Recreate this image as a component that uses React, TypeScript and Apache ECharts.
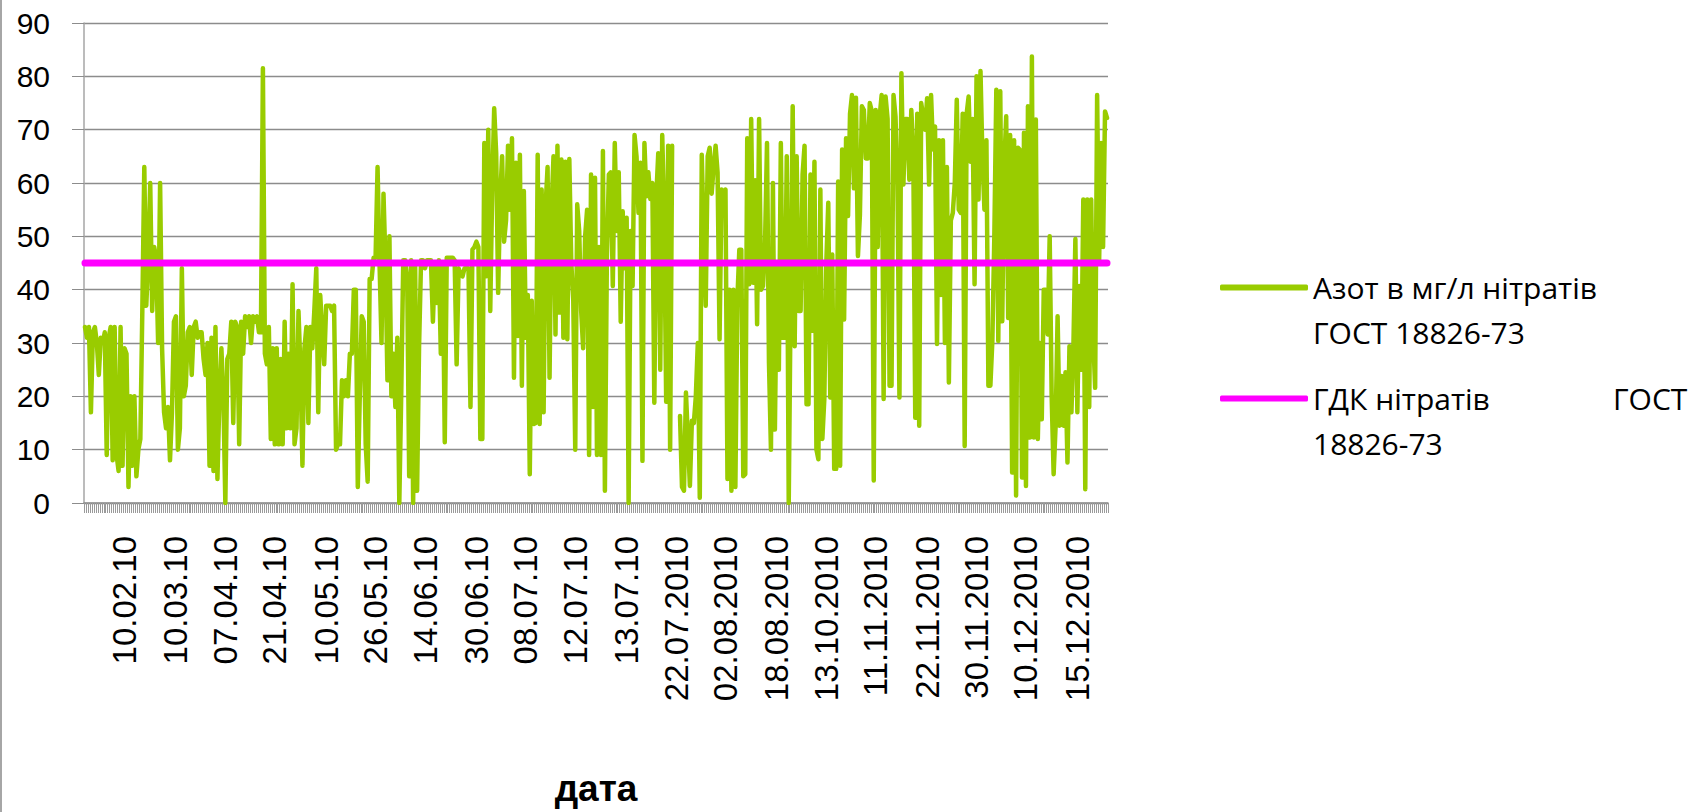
import React, { useEffect, useRef } from "react";
import * as echarts from "echarts";

// Nitrate nitrogen, mg/l (one value per measurement, in order)
const nitrateValues: (number | null)[] = [
  // segment 1
  33, 31, 33, 17, 32, 33, 30, 24, 31, 30, 32, 9, 31, 33, 8, 33, 9, 6, 33, 7,
  29, 28, 3, 20, 7, 20, 5, 10, 12, 36, 63, 37, 46, 60, 36, 48, 46, 30, 60, 29,
  17, 14, 18, 8, 17, 34, 35, 10, 14, 44, 20, 22, 32, 33, 24, 33, 34, 31, 32, 32,
  27, 24, 30, 7,
  // segment 2
  31, 6, 33, 4.5, 20, 29, 20, 0, 27, 28, 34, 15, 34, 33, 11, 34, 28, 35, 33, 35,
  30, 35, 34, 35, 32, 32, 81.5, 28, 26, 33, 12, 29, 11, 29, 11, 27, 11, 34, 14, 28,
  14, 41, 11, 14, 36, 25, 7, 29, 33, 15, 33, 29, 36, 44, 17, 39, 32, 26, 37, 37,
  37, 36, 37, 10, 11, 11, 23, 20, 23, 20, 28,
  // segment 3
  28, 40, 40, 3, 20, 35, 34, 11, 4, 42, 42, 46, 46, 63, 45, 30, 58, 45, 23, 50,
  20, 28, 18, 31, 0, 21, 45.5, 45.5, 42, 5, 45.5, 0, 45, 2.3, 29.4, 45.5, 45.5, 44, 45.5, 45.5,
  45.5, 34, 45, 37.5, 45.5, 28, 45, 11.4, 46, 46, 46, 46, 45.5, 26, 44, 43, 42.5, 44, 44, 44,
  18, 47.5, 48, 49, 48, 12,
  // segment 4
  12, 67.5, 42.5, 70, 36, 59, 74, 65.6, 39.4, 57, 65, 49, 53, 67, 55, 68.4, 23.5, 63.8, 31.3, 65.3,
  22, 58.5, 31, 39, 5.4, 37.9, 14.8, 15, 65.3, 14.8, 58.8, 17, 55.6, 63, 23.5, 55, 65, 31.6, 67, 35.7,
  64.4, 31, 64, 30.7, 64.5, 45, 38, 10, 56, 51, 36, 29, 50, 55, 9, 61.6, 18, 61, 9, 48,
  9, 66, 2.3, 46, 61.6,
  // segment 5
  62, 40.7, 67.5, 51, 62, 34, 54.7, 44, 53.5, 0, 51, 40.7, 69, 65, 54.4, 63.8, 7.9, 67.5, 57.5, 62,
  57, 60, 18.8, 57.5, 65.6, 25, 69, 54, 19, 67, 10, 67, null, null, null, 16.3, 3, 2.3, 20.7, 12,
  3.2, 15.4, 15, 20, 30, 1, 65.3, 50, 37, 65, 66.6, 58, 63, 67, 62, 30.7, 58.8, 55, 58.8, 4.5,
  40, 2.3, 40, 3, 38, 47.5,
  // segment 6
  47.5, 5, 5.4, 68.4, 41, 72, 41.3, 60.5, 33.5, 72, 40, 40.7, 48.5, 67.5, 26.3, 10, 60, 13.8, 45, 25,
  67.5, 31, 31, 65, 0, 40, 74.4, 29.4, 65, 36, 36, 61.6, 67, 18.5, 18.5, 61.6, 32.3, 64, 10, 8.2,
  58.8, 12, 19.5, 45, 56.3, 19.8, 46.6, 6.4, 6.4, 60.3, 7, 66.3, 34.4, 68.4, 53.8, 73, 76.5, 59, 76, 46.3,
  54, 74.4, 73.7, 64.6, 64.6, 75,
  // segment 7
  73.5, 4.2, 73.7, 48, 72.5, 76.5, 19.5, 76.2, 72, 22, 22, 76.5, 72.5, 60, 19.8, 80.6, 59.7, 72, 72, 60.6,
  73.7, 66, 16, 73, 14.5, 75, 72.5, 70, 75.9, 59.7, 76.5, 66.3, 70.6, 29.8, 68, 39, 68, 30, 63, 22.6,
  53, 54.4, 60, 75.6, 55, 54.4, 73, 10.7, 73, 76.2, 64, 72, 41, 80, 56.9, 81, 64.4, 55, 68, 22,
  22, 30.4, 50, 77.5, 30.4, 77.2,
  // segment 8
  34.1, 63, 72.5, 34.7, 69, 5.7, 68, 1.4, 66.6, 66.2, 4.8, 69.4, 3.2, 74.4, 12.3, 83.7, 12.3, 71.9, 12, 30,
  15.7, 40, 40, 31.6, 50, 20, 5.4, 14.5, 35, 14.5, 23.8, 14.5, 24.5, 7.6, 29.4, 17, 29.4, 49.5, 17, 40.7,
  25, 56.9, 2.6, 56.9, 18, 56.9, 31.3, 21.6, 76.5, 45, 67.5, 48, 73.4, 72.2,
];

// Maximum permissible concentration (ГДК)
const gdkLimit = 45;

// Axis tick labels shown under the chart (every ~25th measurement)
const dateLabels = [
  "10.02.10", "10.03.10", "07.04.10", "21.04.10", "10.05.10", "26.05.10", "14.06.10",
  "30.06.10", "08.07.10", "12.07.10", "13.07.10", "22.07.2010", "02.08.2010", "18.08.2010",
  "13.10.2010", "11.11.2010", "22.11.2010", "30.11.2010", "10.12.2010", "15.12.2010",
];
const firstLabelIndex = 20.3;
const labelStep = 25.33;

const seriesNameA = "Азот в мг/л нітратів ГОСТ 18826-73";
const seriesNameB = "ГДК нітратів ГОСТ 18826-73";

const labelIndex = new Map<number, string>();
dateLabels.forEach((d, k) => labelIndex.set(Math.round(firstLabelIndex + k * labelStep), d));
const categories = nitrateValues.map((_, i) => labelIndex.get(i) ?? String(i + 1));
const gdkValues = categories.map(() => gdkLimit);

export default function App() {
  const ref = useRef<HTMLDivElement>(null);
  useEffect(() => {
    if (!ref.current) return;
    const chart = echarts.init(ref.current, null, { renderer: "svg" });
    const legendFont = { fontFamily: "Open Sans", fontSize: 30, lineHeight: 45, color: "#000" };
    chart.setOption({
      animation: false,
      backgroundColor: "#ffffff",
      grid: { left: 84, top: 23, width: 1024, height: 481, containLabel: false },
      graphic: [
        { type: "rect", left: 0, top: 0, shape: { width: 2, height: 812 }, style: { fill: "#a6a6a6" } },
      ],
      legend: {
        orient: "vertical",
        left: 1220,
        top: 220,
        padding: 0,
        itemGap: -24,
        itemWidth: 88,
        itemHeight: 6,
        selectedMode: false,
        itemStyle: { borderWidth: 0 },
        data: [
          { name: seriesNameA, icon: "roundRect", itemStyle: { color: "#99CC00" } },
          { name: seriesNameB, icon: "roundRect", itemStyle: { color: "#FF00FF" } },
        ],
        formatter: (name: string) =>
          name === seriesNameA
            ? "{e| }\n{a|Азот в мг/л нітратів}\n{a|ГОСТ 18826-73}"
            : "{e| }\n{b|ГДК нітратів}{a|ГОСТ}\n{a|18826-73}",
        textStyle: {
          ...legendFont,
          rich: {
            a: { ...legendFont },
            b: { ...legendFont, width: 300 },
            e: { ...legendFont },
          },
        },
      },
      xAxis: {
        type: "category",
        data: categories,
        boundaryGap: true,
        name: "дата",
        nameLocation: "middle",
        nameGap: 267,
        nameTextStyle: { fontFamily: "Liberation Sans", fontWeight: "bold", fontSize: 37, color: "#000" },
        axisLine: { show: true, lineStyle: { color: "#8c8c8c", width: 1.5 } },
        axisTick: { show: true, interval: 0, length: 10, lineStyle: { color: "#9a9a9a", width: 1 } },
        axisLabel: {
          interval: (i: number) => labelIndex.has(i),
          rotate: 90,
          margin: 33,
          fontFamily: "Liberation Sans",
          fontSize: 33,
          color: "#000",
        },
        splitLine: { show: false },
      },
      yAxis: {
        type: "value",
        min: 0,
        max: 90,
        interval: 10,
        axisLine: { show: true, lineStyle: { color: "#a6a6a6", width: 1.5 } },
        axisTick: { show: true, length: 12, lineStyle: { color: "#8c8c8c" } },
        axisLabel: { margin: 34, fontFamily: "Liberation Sans", fontSize: 30, color: "#000" },
        splitLine: { show: true, lineStyle: { color: "#8c8c8c", width: 1.3 } },
      },
      series: [
        {
          name: seriesNameA,
          type: "line",
          data: nitrateValues,
          symbol: "none",
          connectNulls: false,
          itemStyle: { color: "#99CC00" },
          lineStyle: { color: "#99CC00", width: 4.5, cap: "round", join: "round" },
          z: 2,
        },
        {
          name: seriesNameB,
          type: "line",
          data: gdkValues,
          symbol: "none",
          itemStyle: { color: "#FF00FF" },
          lineStyle: { color: "#FF00FF", width: 7, cap: "round" },
          z: 3,
        },
      ],
    });
    return () => chart.dispose();
  }, []);
  return (
    <div
      ref={ref}
      style={{ position: "absolute", left: 0, top: 0, width: 1692, height: 812, background: "#fff" }}
    />
  );
}
